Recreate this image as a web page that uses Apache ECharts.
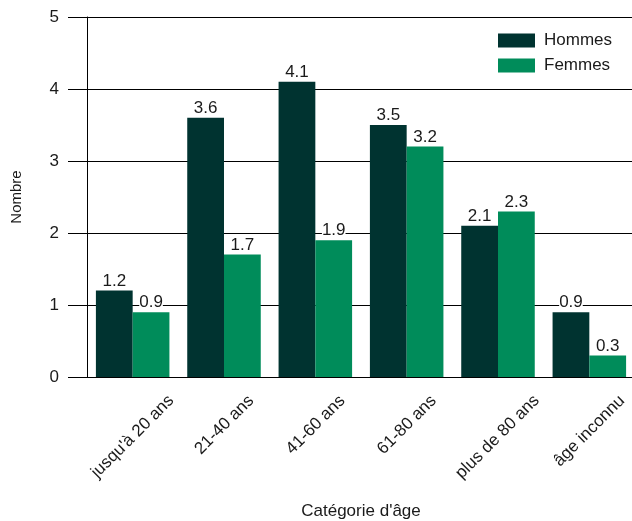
<!DOCTYPE html>
<html>
<head>
<meta charset="utf-8">
<script src="https://cdn.jsdelivr.net/npm/echarts@6/dist/echarts.min.js"></script>
<style>
  html, body { margin: 0; padding: 0; background: #fff; }
  #chart { width: 632px; height: 521px; }
</style>
</head>
<body>
<div id="chart"></div>
<script>
// Age groups along the category axis
const categories = ['jusqu\'à 20 ans', '21-40 ans', '41-60 ans', '61-80 ans', 'plus de 80 ans', 'âge inconnu'];
// Counts per age group
const hommes = [1.2, 3.6, 4.1, 3.5, 2.1, 0.9];
const femmes = [0.9, 1.7, 1.9, 3.2, 2.3, 0.3];
// Value axis ticks
const yTicks = [0, 1, 2, 3, 4, 5];

const FONT = '"Liberation Sans", Arial, sans-serif';
const TEXT = '#1a1a1a';
const LABEL_SIZE = 17;

// Rotated category labels: the top of each rotated label box sits on one line
// and its horizontal centre on the category; padding depends on text width.
const measureCtx = document.createElement('canvas').getContext('2d');
measureCtx.font = LABEL_SIZE + 'px ' + FONT;
const catData = categories.map(function (name) {
  const w = measureCtx.measureText(name).width;
  const h = LABEL_SIZE;
  const padRight = Math.round((w + h) / 2);
  const padTop = Math.max(0, Math.round((w - h) / 4));
  return {
    value: name,
    textStyle: {
      align: 'center',
      verticalAlign: 'top',
      padding: [padTop, padRight, 0, 0],
      fontSize: LABEL_SIZE,
      color: TEXT,
      fontFamily: FONT
    }
  };
});

const chart = echarts.init(document.getElementById('chart'), null, { renderer: 'canvas' });

chart.setOption({
  animation: false,
  textStyle: { fontFamily: FONT, color: TEXT },
  grid: { left: 87, top: 17, bottom: 144, width: 548, containLabel: false, outerBoundsMode: 'none' },
  legend: {
    orient: 'vertical',
    left: 493,
    top: 27,
    itemWidth: 37,
    itemHeight: 14,
    itemGap: 8,
    icon: 'rect',
    textStyle: { fontSize: LABEL_SIZE, color: TEXT, fontFamily: FONT, padding: [0, 0, 0, 4] },
    data: ['Hommes', 'Femmes']
  },
  xAxis: {
    type: 'category',
    data: catData,
    name: 'Catégorie d\'âge',
    nameLocation: 'middle',
    nameGap: 126,
    nameTextStyle: { fontSize: LABEL_SIZE, color: TEXT, fontFamily: FONT },
    axisLine: { show: true, lineStyle: { color: '#000', width: 1 } },
    axisTick: { show: false },
    splitLine: {
      show: true,
      interval: function (index) { return index === 5; },
      lineStyle: { color: '#000', width: 1 }
    },
    axisLabel: {
      rotate: 45,
      margin: 15,
      fontSize: LABEL_SIZE,
      color: TEXT,
      fontFamily: FONT,
      interval: 0
    }
  },
  yAxis: {
    type: 'value',
    min: yTicks[0],
    max: yTicks[yTicks.length - 1],
    interval: 1,
    name: 'Nombre',
    nameLocation: 'middle',
    nameGap: 63,
    nameRotate: 90,
    nameTextStyle: { fontSize: 15, color: TEXT, fontFamily: FONT },
    axisLine: { show: true, lineStyle: { color: '#000', width: 1 } },
    axisTick: { show: true, inside: false, length: 19, lineStyle: { color: '#000', width: 1 } },
    splitLine: { show: true, lineStyle: { color: '#000', width: 1 } },
    axisLabel: { margin: 28, fontSize: LABEL_SIZE, color: TEXT, fontFamily: FONT }
  },
  series: [
    {
      name: 'Hommes',
      type: 'bar',
      data: hommes,
      barGap: '0%',
      barCategoryGap: '19.5%',
      itemStyle: { color: '#003330' },
      label: {
        show: true,
        position: 'top',
        distance: 1,
        fontSize: LABEL_SIZE,
        color: TEXT,
        fontFamily: FONT,
        backgroundColor: '#fff',
        formatter: function (p) { return p.value.toFixed(1); }
      }
    },
    {
      name: 'Femmes',
      type: 'bar',
      data: femmes,
      barGap: '0%',
      barCategoryGap: '19.5%',
      itemStyle: { color: '#008C5A' },
      label: {
        show: true,
        position: 'top',
        distance: 1,
        fontSize: LABEL_SIZE,
        color: TEXT,
        fontFamily: FONT,
        backgroundColor: '#fff',
        formatter: function (p) { return p.value.toFixed(1); }
      }
    }
  ]
});
</script>
</body>
</html>
